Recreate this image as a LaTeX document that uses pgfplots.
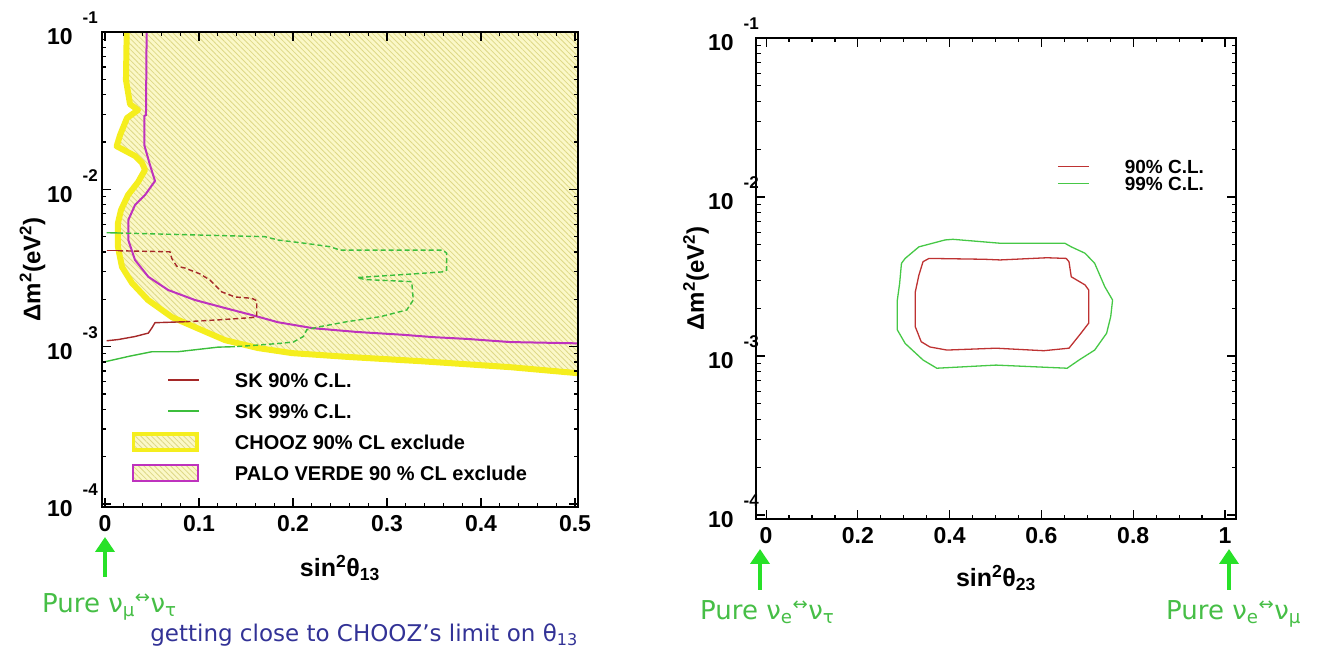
\documentclass[border=0pt]{standalone}
\usepackage{fontspec}
\setmainfont{Liberation Sans}
\newfontfamily\dejavu{DejaVu Sans}
\usepackage{graphicx}
\usepackage{pgfplots}
\pgfplotsset{compat=1.18}
\usetikzlibrary{patterns.meta,arrows.meta}

\definecolor{choozline}{RGB}{245,238,30}
\definecolor{hatchbg}{RGB}{251,248,200}
\definecolor{hatchline}{RGB}{222,216,135}
\definecolor{pvmag}{RGB}{190,50,190}
\definecolor{skred}{RGB}{165,40,40}
\definecolor{skgreen}{RGB}{60,190,60}
\definecolor{rred}{RGB}{190,50,50}
\definecolor{rgreen}{RGB}{70,200,70}
\definecolor{arrowgreen}{RGB}{40,225,40}
\definecolor{puregreen}{RGB}{70,190,70}
\definecolor{navytext}{RGB}{50,50,150}

\newcommand\tenexp[1]{10\hspace{10pt}\raisebox{21pt}{\fontsize{17}{17}\selectfont #1}}

\begin{document}
\begin{tikzpicture}
\path[use as bounding box] (0pt,0pt) rectangle (1319pt,650pt);

% ---------------- left panel ----------------
\begin{axis}[
  scale only axis, axis on top, ymode=log,
  axis line style={line width=1.6pt},
  tick style={line width=1.2pt, black},
  major tick length=9pt, minor tick length=4.5pt,
  ytick={1e-4,1e-3,1e-2,1e-1},
  yticklabels={{\tenexp{-4}},{\tenexp{-3}},{\tenexp{-2}},{\tenexp{-1}}},
  minor ytick={2e-4,3e-4,4e-4,5e-4,6e-4,7e-4,8e-4,9e-4,2e-3,3e-3,4e-3,5e-3,6e-3,7e-3,8e-3,9e-3,2e-2,3e-2,4e-2,5e-2,6e-2,7e-2,8e-2,9e-2},
  ticklabel style={font=\bfseries\fontsize{23}{23}\selectfont},
  xticklabel style={anchor=north, inner sep=0pt, yshift=-8pt},
  at={(101.7pt,143pt)}, anchor=south west,
  width=476.3pt, height=475pt,
  xmin=-0.0035, xmax=0.5032, ymin=9.57e-5, ymax=0.1,
  xtick={0,0.1,0.2,0.3,0.4,0.5}, xticklabels={0,0.1,0.2,0.3,0.4,0.5},
  minor x tick num=4,
  yticklabel style={anchor=east, inner sep=0pt, xshift=-3.7pt, yshift=3.6pt},
  xlabel={sin\textsuperscript{2}θ\textsubscript{13}},
  ylabel={Δm\textsuperscript{2}(eV\textsuperscript{2})},
  every axis x label/.style={at={(axis description cs:0.5,-0.1284)}, anchor=center, font=\bfseries\fontsize{25}{25}\selectfont},
  every axis y label/.style={at={(axis description cs:-0.1453,0.5)}, rotate=90, anchor=center, font=\bfseries\fontsize{24}{24}\selectfont},
  legend cell align=left,
  legend style={at={(0.0636,0.2884)}, anchor=north west, draw=none, fill=none,
    inner sep=0pt, outer sep=0pt, row sep=11.1pt, column sep=0pt,
    font=\bfseries\fontsize{20}{20}\selectfont,
    nodes={inner sep=0pt, text height=14.4pt, text depth=0pt}},
]
% CHOOZ excluded region (hatched)
\addplot[draw=none, fill=hatchbg, postaction={pattern={Lines[angle=-45,distance=3.8pt,line width=0.8pt]}, pattern color=hatchline}, forget plot]
 coordinates {(0.0231,0.105) (0.0231,0.1) (0.0223,0.0496) (0.0266,0.0348) (0.0351,0.0319) (0.0234,0.0284) (0.0160,0.0221) (0.0124,0.0188) (0.0319,0.0163) (0.0394,0.0147) (0.0426,0.0133) (0.0351,0.0111) (0.0245,0.0092) (0.0170,0.00738) (0.0138,0.00611) (0.0138,0.00430) (0.0181,0.00321) (0.0287,0.00254) (0.0457,0.00198) (0.0713,0.00154) (0.0957,0.00133) (0.1277,0.00110) (0.1628,0.00098) (0.1989,0.00091) (0.2606,0.000859) (0.3351,0.000809) (0.4309,0.000741) (0.5021,0.000679) (0.51,0.000668) (0.51,0.105)} -- cycle;
% CHOOZ boundary
\addplot[choozline, line width=6pt, line join=round, forget plot]
 coordinates {(0.0231,0.105) (0.0231,0.1) (0.0223,0.0496) (0.0266,0.0348) (0.0351,0.0319) (0.0234,0.0284) (0.0160,0.0221) (0.0124,0.0188) (0.0319,0.0163) (0.0394,0.0147) (0.0426,0.0133) (0.0351,0.0111) (0.0245,0.0092) (0.0170,0.00738) (0.0138,0.00611) (0.0138,0.00430) (0.0181,0.00321) (0.0287,0.00254) (0.0457,0.00198) (0.0713,0.00154) (0.0957,0.00133) (0.1277,0.00110) (0.1628,0.00098) (0.1989,0.00091) (0.2606,0.000859) (0.3351,0.000809) (0.4309,0.000741) (0.5021,0.000679) (0.51,0.000668)};
% Palo Verde boundary
\addplot[pvmag, line width=2pt, forget plot]
 coordinates {(0.0443,0.105) (0.0443,0.1) (0.0436,0.02965) (0.0418,0.02924) (0.0418,0.01914) (0.0479,0.01426) (0.0532,0.01130) (0.0426,0.00920) (0.0319,0.00794) (0.0248,0.00638) (0.0248,0.00476) (0.0319,0.00356) (0.0461,0.00278) (0.0673,0.00229) (0.0957,0.00198) (0.1277,0.00176) (0.1561,0.00159) (0.1840,0.00143) (0.2213,0.00131) (0.2681,0.00124) (0.3170,0.00119) (0.3489,0.00115) (0.3851,0.00112) (0.4309,0.00107) (0.5021,0.00105) (0.51,0.00105)};
% SK 90% (red)
\addplot[skred, line width=1.4pt, forget plot] coordinates {(0.0018,0.00407) (0.014,0.00407)};
\addplot[skred, line width=1.4pt, dash pattern=on 5pt off 3pt, forget plot]
 coordinates {(0.014,0.00407) (0.0691,0.00401) (0.0710,0.00364) (0.0763,0.00325) (0.0851,0.00316) (0.1011,0.00290) (0.1117,0.00265) (0.1241,0.00223) (0.1383,0.00207) (0.1561,0.00203) (0.1614,0.00196) (0.1614,0.00155) (0.1561,0.00153) (0.1205,0.00148) (0.0851,0.00144)};
\addplot[skred, line width=1.4pt, forget plot]
 coordinates {(0.0851,0.00144) (0.0532,0.00142) (0.0497,0.00131) (0.0461,0.00122) (0.0319,0.00116) (0.0141,0.00111) (0.0018,0.00109)};
% SK 99% (green)
\addplot[skgreen, line width=1.4pt, forget plot] coordinates {(0.0018,0.00530) (0.014,0.00528)};
\addplot[skgreen, line width=1.4pt, dash pattern=on 5pt off 3pt, forget plot]
 coordinates {(0.014,0.00528) (0.1702,0.00500) (0.1844,0.00476) (0.2128,0.00454) (0.2394,0.00432) (0.2500,0.00411) (0.3596,0.00411) (0.3635,0.00392) (0.3635,0.00307) (0.3599,0.00299) (0.3280,0.00290) (0.2926,0.00281) (0.2681,0.00275) (0.2766,0.00267) (0.3263,0.00259) (0.3280,0.00198) (0.3210,0.00171) (0.2926,0.00155) (0.2571,0.00144) (0.2287,0.00134) (0.2146,0.00128) (0.2110,0.00116) (0.2003,0.00107) (0.1862,0.00105) (0.1596,0.00102) (0.1383,0.00100)};
\addplot[skgreen, line width=1.4pt, forget plot]
 coordinates {(0.1383,0.00100) (0.1202,0.000993) (0.0777,0.000929) (0.0500,0.000929) (0.0266,0.000871) (0.0,0.000802)};

% legend
\addlegendimage{legend image code/.code={\path[draw=none,fill=none] (0pt,-10pt) rectangle (103pt,10pt); \draw[draw=skred, line width=1.6pt, solid] (36.4pt,0pt) -- (67pt,0pt);}}
\addlegendentry{SK 90\% C.L.}
\addlegendimage{legend image code/.code={\path[draw=none,fill=none] (0pt,-10pt) rectangle (103pt,10pt); \draw[draw=skgreen, line width=1.6pt, solid] (36.4pt,0pt) -- (67pt,0pt);}}
\addlegendentry{SK 99\% C.L.}
\addlegendimage{legend image code/.code={\path[draw=none,fill=none] (0pt,-10pt) rectangle (103pt,10pt); \draw[draw=choozline, line width=3.5pt, solid, fill=hatchbg, postaction={pattern={Lines[angle=-45,distance=3.8pt,line width=0.8pt]}, pattern color=hatchline}] (1.75pt,-8pt) rectangle (65.25pt,8pt);}}
\addlegendentry{CHOOZ 90\% CL exclude}
\addlegendimage{legend image code/.code={\path[draw=none,fill=none] (0pt,-10pt) rectangle (103pt,10pt); \draw[draw=pvmag, line width=1.8pt, solid, fill=hatchbg, postaction={pattern={Lines[angle=-45,distance=3.8pt,line width=0.8pt]}, pattern color=hatchline}] (0.9pt,-8pt) rectangle (66.1pt,8pt);}}
\addlegendentry{PALO VERDE 90 \% CL exclude}
\end{axis}

% ---------------- right panel ----------------
\begin{axis}[
  scale only axis, axis on top, ymode=log,
  axis line style={line width=1.6pt},
  tick style={line width=1.2pt, black},
  major tick length=9pt, minor tick length=4.5pt,
  ytick={1e-4,1e-3,1e-2,1e-1},
  yticklabels={{\tenexp{-4}},{\tenexp{-3}},{\tenexp{-2}},{\tenexp{-1}}},
  minor ytick={2e-4,3e-4,4e-4,5e-4,6e-4,7e-4,8e-4,9e-4,2e-3,3e-3,4e-3,5e-3,6e-3,7e-3,8e-3,9e-3,2e-2,3e-2,4e-2,5e-2,6e-2,7e-2,8e-2,9e-2},
  ticklabel style={font=\bfseries\fontsize{23}{23}\selectfont},
  xticklabel style={anchor=north, inner sep=0pt, yshift=-8pt},
  at={(756pt,131pt)}, anchor=south west,
  width=480pt, height=481pt,
  xmin=-0.022, xmax=1.024, ymin=9.44e-5, ymax=0.1,
  xtick={0,0.2,0.4,0.6,0.8,1}, xticklabels={0,0.2,0.4,0.6,0.8,1},
  minor x tick num=3,
  yticklabel style={anchor=east, inner sep=0pt, xshift=3pt, yshift=3.6pt},
  xlabel={sin\textsuperscript{2}θ\textsubscript{23}},
  ylabel={Δm\textsuperscript{2}(eV\textsuperscript{2})},
  every axis x label/.style={at={(axis description cs:0.5,-0.1227)}, anchor=center, font=\bfseries\fontsize{25}{25}\selectfont},
  every axis y label/.style={at={(axis description cs:-0.125,0.5)}, rotate=90, anchor=center, font=\bfseries\fontsize{24}{24}\selectfont},
  legend cell align=left,
  legend style={at={(0.6271,0.7497)}, anchor=north west, draw=none, fill=none,
    inner sep=0pt, outer sep=0pt, row sep=0pt, column sep=0pt,
    font=\bfseries\fontsize{19}{19}\selectfont,
    nodes={inner sep=0pt, text height=13.6pt, text depth=0pt}},
]
\addplot[rred, line width=1.3pt, forget plot]
 coordinates {(0.355,0.00411) (0.342,0.00392) (0.333,0.00323) (0.325,0.00252) (0.325,0.00153) (0.338,0.00123) (0.357,0.00114) (0.394,0.00109) (0.501,0.00112) (0.605,0.00108) (0.660,0.00112) (0.686,0.00139) (0.703,0.00161) (0.703,0.00260) (0.695,0.00280) (0.665,0.00315) (0.660,0.00392) (0.654,0.00411) (0.612,0.00415) (0.510,0.00402) (0.475,0.00406) (0.355,0.00411)};
\addplot[rgreen, line width=1.3pt, forget plot]
 coordinates {(0.390,0.00537) (0.333,0.00486) (0.303,0.00411) (0.295,0.00383) (0.291,0.00286) (0.286,0.00225) (0.286,0.00146) (0.303,0.00120) (0.342,0.000944) (0.372,0.000838) (0.501,0.000877) (0.656,0.000838) (0.682,0.000944) (0.716,0.00109) (0.742,0.00139) (0.751,0.00177) (0.755,0.00225) (0.738,0.00273) (0.716,0.00383) (0.695,0.00443) (0.665,0.00486) (0.651,0.00512) (0.510,0.00512) (0.407,0.00542) (0.390,0.00537)};
\addlegendimage{legend image code/.code={\path[draw=none,fill=none] (0pt,-8.3pt) rectangle (67pt,8.3pt); \draw[draw=rred, line width=1.5pt, solid] (0pt,0pt) -- (31pt,0pt);}}
\addlegendentry{90\% C.L.}
\addlegendimage{legend image code/.code={\path[draw=none,fill=none] (0pt,-8.3pt) rectangle (67pt,8.3pt); \draw[draw=rgreen, line width=1.5pt, solid] (0pt,0pt) -- (31pt,0pt);}}
\addlegendentry{99\% C.L.}
\end{axis}

% ---------------- annotations ----------------
\draw[arrowgreen, line width=4pt, -{Triangle[width=19pt,length=15pt]}] (105pt,73pt) -- (105pt,113pt);
\draw[arrowgreen, line width=4pt, -{Triangle[width=19pt,length=15pt]}] (760pt,60pt) -- (760pt,101pt);
\draw[arrowgreen, line width=4pt, -{Triangle[width=19pt,length=15pt]}] (1229pt,60pt) -- (1229pt,101pt);
\node[anchor=base west, inner sep=0pt, text=puregreen, font=\dejavu\fontsize{26}{26}\selectfont] at (42pt,37pt) {Pure ν\textsubscript{μ}\textsuperscript{↔}ν\textsubscript{τ}};
\node[anchor=base east, inner sep=0pt, text=navytext, font=\dejavu\fontsize{23}{23}\selectfont] at (578pt,8pt) {getting close to CHOOZ’s limit on θ\textsubscript{13}};
\node[anchor=base west, inner sep=0pt, text=puregreen, font=\dejavu\fontsize{26}{26}\selectfont] at (700pt,30pt) {Pure ν\textsubscript{e}\textsuperscript{↔}ν\textsubscript{τ}};
\node[anchor=base west, inner sep=0pt, text=puregreen, font=\dejavu\fontsize{26}{26}\selectfont] at (1166pt,30pt) {Pure ν\textsubscript{e}\textsuperscript{↔}ν\textsubscript{μ}};
\end{tikzpicture}
\end{document}
